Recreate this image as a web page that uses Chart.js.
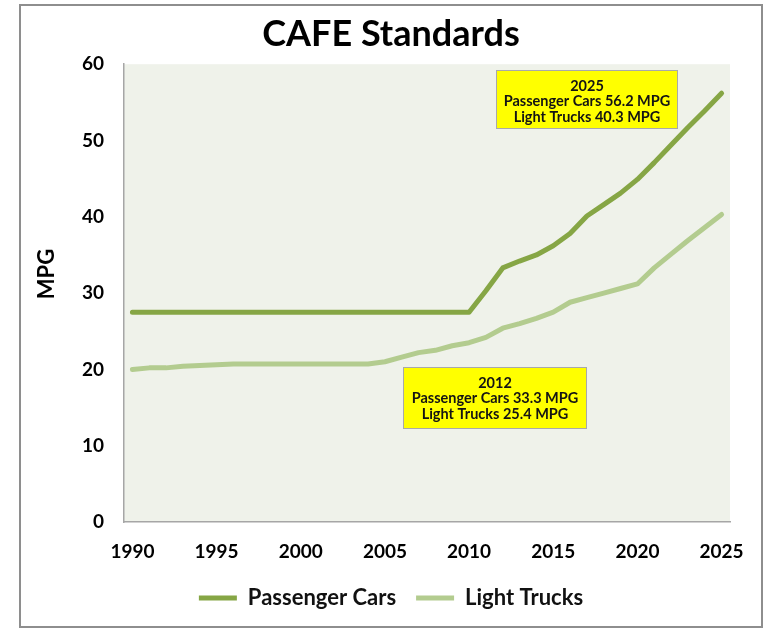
<!DOCTYPE html>
<html>
<head>
<meta charset="utf-8">
<script src="https://cdn.jsdelivr.net/npm/chart.js@4"></script>
<style>
  html, body { margin: 0; padding: 0; background: #ffffff; }
  #wrap { width: 764px; height: 629px; }
</style>
</head>
<body>
<div id="wrap"><canvas id="chart" width="764" height="629"></canvas></div>
<script>
// ===============================
// Data
// ===============================
const years = [
  "1990", "1991", "1992", "1993", "1994", "1995", "1996", "1997", "1998", "1999",
  "2000", "2001", "2002", "2003", "2004", "2005", "2006", "2007", "2008", "2009",
  "2010", "2011", "2012", "2013", "2014", "2015", "2016", "2017", "2018", "2019",
  "2020", "2021", "2022", "2023", "2024", "2025"
];
const passengerCars = [
  27.5, 27.5, 27.5, 27.5, 27.5, 27.5, 27.5, 27.5, 27.5, 27.5,
  27.5, 27.5, 27.5, 27.5, 27.5, 27.5, 27.5, 27.5, 27.5, 27.5,
  27.5, 30.3, 33.3, 34.2, 35.0, 36.2, 37.8, 40.1, 41.6, 43.1,
  44.9, 47.1, 49.4, 51.7, 53.9, 56.2
];
const lightTrucks = [
  20.0, 20.2, 20.2, 20.4, 20.5, 20.6, 20.7, 20.7, 20.7, 20.7,
  20.7, 20.7, 20.7, 20.7, 20.7, 21.0, 21.6, 22.2, 22.5, 23.1,
  23.5, 24.2, 25.4, 26.0, 26.7, 27.5, 28.8, 29.4, 30.0, 30.6,
  31.2, 33.3, 35.1, 36.9, 38.6, 40.3
];
const xTickLabels = ["1990", "1995", "2000", "2005", "2010", "2015", "2020", "2025"];
const yTicks = [0, 10, 20, 30, 40, 50, 60];

// callout boxes: anchored at (category index, MPG) of their top-left corner
const notes = [
  { at: 21.6, top: 59.3, w: 181, h: 58, lines: ["2025", "Passenger Cars 56.2 MPG", "Light Trucks 40.3 MPG"] },
  { at: 16.05, top: 20.3, w: 183, h: 61, lines: ["2012", "Passenger Cars 33.3 MPG", "Light Trucks 25.4 MPG"] }
];

const FONT = "Lato, 'Open Sans', 'DejaVu Sans', sans-serif";

// ===============================
// Plugins
// ===============================
const frame = {
  id: "frame",
  beforeDraw(chart) {
    const { ctx, chartArea: a } = chart;
    ctx.save();
    ctx.fillStyle = "#ffffff";
    ctx.fillRect(0, 0, chart.width, chart.height);
    ctx.strokeStyle = "#8e8e8e";
    ctx.lineWidth = 2;
    ctx.strokeRect(20, 5, 742, 622);
    ctx.fillStyle = "#eff2ea";
    ctx.fillRect(a.left, a.top, a.right - a.left, a.bottom - a.top);
    // y axis title, placed like the original (a bit above the axis middle)
    ctx.translate(47, 274);
    ctx.rotate(-Math.PI / 2);
    ctx.fillStyle = "#000000";
    ctx.font = "bold 22px " + FONT;
    ctx.textAlign = "center";
    ctx.textBaseline = "middle";
    ctx.fillText("MPG", 0, 0);
    ctx.restore();
  }
};

const callouts = {
  id: "callouts",
  afterDatasetsDraw(chart) {
    const { ctx, scales } = chart;
    ctx.save();
    notes.forEach(n => {
      const x = Math.round(scales.x.getPixelForValue(n.at)) + 0.5;
      const y = Math.round(scales.y.getPixelForValue(n.top)) + 0.5;
      ctx.fillStyle = "#ffff00";
      ctx.fillRect(x, y, n.w, n.h);
      ctx.strokeStyle = "#a9a9a9";
      ctx.lineWidth = 1;
      ctx.strokeRect(x, y, n.w, n.h);
      ctx.fillStyle = "#141414";
      ctx.font = "bold 14.5px " + FONT;
      ctx.textAlign = "center";
      ctx.textBaseline = "middle";
      n.lines.forEach((t, i) => {
        ctx.fillText(t, x + n.w / 2, y + 15.5 + i * 15.5);
      });
    });
    ctx.restore();
  }
};

// ===============================
// Chart
// ===============================
new Chart(document.getElementById("chart"), {
  type: "line",
  data: {
    labels: years,
    datasets: [
      {
        label: "Passenger Cars",
        data: passengerCars,
        borderColor: "#86a645",
        backgroundColor: "#86a645",
        borderWidth: 5,
        borderCapStyle: "round",
        borderJoinStyle: "round",
        pointRadius: 0,
        tension: 0
      },
      {
        label: "Light Trucks",
        data: lightTrucks,
        borderColor: "#b3cc8f",
        backgroundColor: "#b3cc8f",
        borderWidth: 5,
        borderCapStyle: "round",
        borderJoinStyle: "round",
        pointRadius: 0,
        tension: 0
      }
    ]
  },
  options: {
    responsive: false,
    animation: false,
    layout: { padding: { left: 20, right: 2, top: 0, bottom: 10 } },
    plugins: {
      title: {
        display: true,
        text: "CAFE Standards",
        color: "#000000",
        font: { family: FONT, size: 36, weight: "bold" },
        padding: { top: 13, bottom: 8 }
      },
      legend: {
        position: "bottom",
        labels: {
          color: "#111111",
          font: { family: FONT, size: 22, weight: "bold" },
          usePointStyle: true,
          pointStyle: "line",
          pointStyleWidth: 38,
          padding: 20
        }
      },
      tooltip: { enabled: false }
    },
    scales: {
      x: {
        offset: true,
        grid: { display: false, drawTicks: false },
        border: { display: true, color: "#a6a6a6", width: 1.5 },
        afterFit: s => { s.height = 45; },
        ticks: {
          autoSkip: false,
          maxRotation: 0,
          minRotation: 0,
          padding: 18,
          color: "#000000",
          font: { family: FONT, size: 19, weight: "bold" },
          callback: function (val) {
            const lab = this.getLabelForValue(val);
            return xTickLabels.includes(lab) ? lab : "";
          }
        }
      },
      y: {
        min: yTicks[0],
        max: yTicks[yTicks.length - 1],
        grid: { display: false, drawTicks: false },
        border: { display: true, color: "#a6a6a6", width: 1.5 },
        afterFit: s => { s.width = 104; },
        ticks: {
          stepSize: 10,
          padding: 20,
          color: "#000000",
          font: { family: FONT, size: 19, weight: "bold" }
        }
      },
      // empty spacer on the right so title and legend stay centred in the frame
      yRight: {
        position: "right",
        grid: { display: false, drawTicks: false },
        border: { display: false },
        ticks: { display: false },
        afterFit: s => { s.width = 32; }
      }
    }
  },
  plugins: [frame, callouts]
});
</script>
</body>
</html>
